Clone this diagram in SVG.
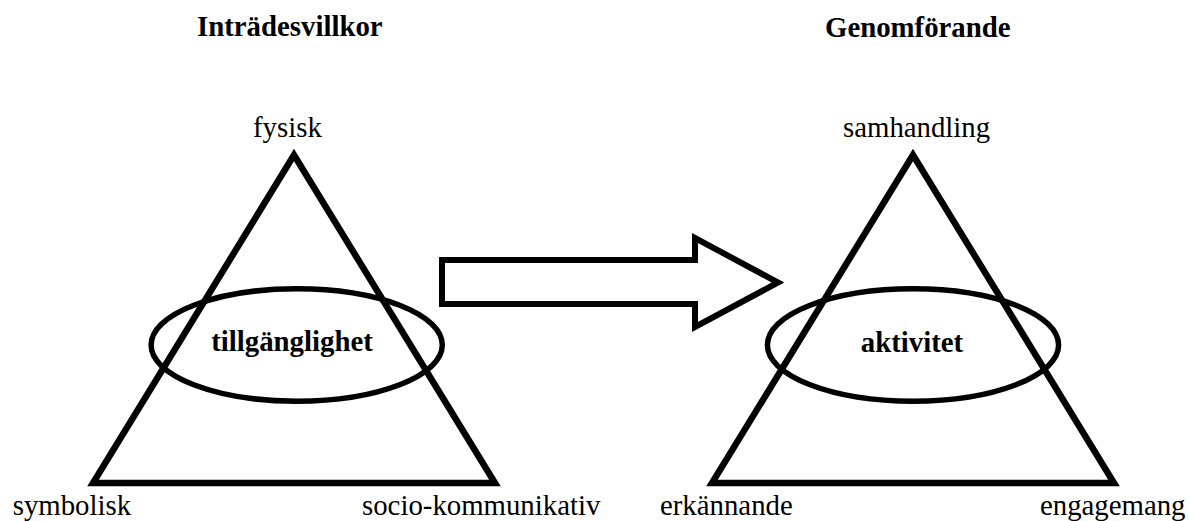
<svg xmlns="http://www.w3.org/2000/svg" width="1189" height="521" viewBox="0 0 1189 521">
<style>
text{font-family:"Liberation Serif","Times New Roman",serif;font-size:28.8px;fill:#000}
.b{font-weight:bold}
.tri{fill:none;stroke:#000;stroke-width:6.5;stroke-linejoin:miter}
.ell{fill:none;stroke:#000;stroke-width:5.5}
.arr{fill:#fff;stroke:#000;stroke-width:6;stroke-linejoin:miter}
</style>
<rect width="1189" height="521" fill="#fff"/>
<g id="heading-left"><text class="b" x="197" y="36">Inträdesvillkor</text></g>
<g id="heading-right"><text class="b" x="825" y="36.5">Genomförande</text></g>
<g id="triangle-left">
<polygon class="tri" points="294,155 93,483 495,483"/>
<text x="253" y="137">fysisk</text>
<text x="12.7" y="515">symbolisk</text>
<text x="362" y="515">socio-kommunikativ</text>
</g>
<g id="ellipse-left">
<ellipse class="ell" cx="296.7" cy="345" rx="145.6" ry="56.2"/>
<text class="b" x="292" y="350.7" text-anchor="middle">tillgänglighet</text>
</g>
<g id="triangle-right">
<polygon class="tri" points="913,155 712,483 1114,483"/>
<text x="843" y="137">samhandling</text>
<text x="660" y="515">erkännande</text>
<text x="1040" y="515">engagemang</text>
</g>
<g id="ellipse-right">
<ellipse class="ell" cx="913" cy="345" rx="145.6" ry="56.2"/>
<text class="b" x="912" y="352" text-anchor="middle">aktivitet</text>
</g>
<g id="connectors">
<polygon class="arr" points="442,260 695,260 695,238 778,282.5 695,327 695,304 442,304"/>
</g>
</svg>
